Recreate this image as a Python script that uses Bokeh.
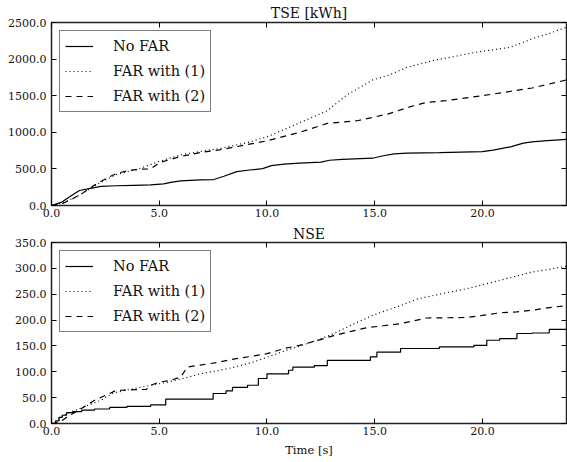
from bokeh.plotting import figure
from bokeh.layouts import column
from bokeh.models import LinearAxis, FixedTicker, PrintfTickFormatter, Range1d
from bokeh.embed import file_html
from bokeh.resources import INLINE

FONT = "'DejaVu Serif', serif"

x_ticks = [0, 5, 10, 15, 20]
tse_ticks = [0, 500, 1000, 1500, 2000, 2500]
nse_ticks = [0, 50, 100, 150, 200, 250, 300, 350]
labels = ["No FAR", "FAR with (1)", "FAR with (2)"]

# TSE [kWh]
tse_nofar_x = [0, 0.5, 1.0, 1.3, 1.8, 2.3, 3.0, 3.8, 4.6, 5.2, 5.6, 6.0, 6.9, 7.5, 8.0, 8.6, 9.2, 9.8,
               10.2, 10.8, 11.5, 12.5, 12.9, 13.5, 14.9, 15.4, 15.9, 16.5, 18.0, 20.0, 20.5, 21.3,
               21.9, 22.3, 23.0, 23.9]
tse_nofar_y = [0, 50, 150, 205, 235, 262, 270, 276, 282, 295, 320, 336, 349, 352, 400, 463, 485, 504,
               545, 565, 578, 592, 618, 630, 646, 680, 705, 715, 722, 737, 756, 801,
               852, 870, 885, 902]
tse_far1_x = [0, 0.5, 1.0, 1.36, 2.05, 2.7, 3.05, 3.6, 4.13, 5.06, 6.0, 6.9, 7.8, 9.1, 10.0, 11.2,
              12.8, 13.7, 14.9, 15.6, 16.5, 17.7, 19.7, 21.3, 22.3, 23.1, 23.9]
tse_far1_y = [0, 35, 100, 153, 276, 380, 427, 465, 510, 609, 692, 737, 778, 860, 938, 1089,
              1295, 1509, 1715, 1774, 1888, 1980, 2093, 2162, 2277, 2350, 2436]
tse_far2_x = [0, 0.5, 1.0, 1.4, 2.0, 2.7, 3.05, 3.6, 4.1, 4.6, 5.06, 6.0, 6.9, 7.8, 10.0, 11.5,
              12.8, 14.2, 15.6, 16.8, 17.4, 18.3, 20.0, 22.3, 23.1, 23.9]
tse_far2_y = [0, 25, 95, 160, 280, 395, 440, 480, 495, 500, 590, 670, 723, 760, 884, 998,
              1121, 1158, 1249, 1363, 1408, 1432, 1500, 1605, 1660, 1715]

# NSE
nse_nofar_x = [0, 0.2, 0.35, 0.5, 0.7, 1.0, 1.4, 2.0, 2.7, 3.5, 4.6, 5.3, 7.5, 8.1, 8.4, 9.1, 9.6,
               10.0, 11.0, 11.2, 12.2, 12.8, 14.8, 15.1, 16.2, 18.0, 19.6, 20.2, 20.8, 21.6,
               22.3, 23.1, 23.9]
nse_nofar_y = [0, 5, 12, 16, 21, 23, 26, 28, 31, 33, 36, 47, 58, 63, 70, 74, 87,
               96, 103, 109, 112, 122, 129, 138, 145, 148, 151, 161, 164, 174,
               175, 182, 182]
nse_far1_x = [0, 0.3, 0.7, 1.2, 1.8, 2.3, 2.8, 3.5, 4.5, 5.4, 6.2, 6.9, 7.7, 8.5, 9.3, 10.0, 10.8,
              11.6, 12.4, 13.1, 14.0, 14.9, 15.5, 16.2, 17.0, 18.0, 19.3, 20.0, 20.8, 21.6,
              22.3, 23.1, 23.9]
nse_far1_y = [0, 8, 19, 27, 37, 45, 58, 65, 73, 80, 88, 96, 102, 109, 118, 128, 140,
              151, 162, 174, 192, 209, 218, 228, 241, 250, 261, 268, 277, 285,
              293, 298, 304]
nse_far2_x = [0, 0.3, 0.5, 0.8, 1.2, 1.5, 2.0, 2.7, 3.0, 4.4, 4.6, 5.0, 5.5, 6.0, 6.3, 6.9, 7.7,
              8.5, 9.3, 10.0, 10.8, 11.5, 12.3, 13.1, 13.9, 14.6, 15.4, 16.2, 17.4, 19.3,
              20.0, 20.8, 21.6, 22.3, 23.1, 23.9]
nse_far2_y = [0, 2, 6, 15, 24, 32, 45, 58, 64, 66, 74, 80, 83, 90, 109, 113, 118,
              125, 130, 135, 145, 151, 160, 170, 178, 185, 189, 193, 204, 205,
              209, 214, 216, 219, 224, 228]

X_END = 23.9
TSE_END = 2500
NSE_END = 350


def style_axis(ax, show_labels=True):
    ax.axis_line_color = None
    ax.major_tick_in = 5
    ax.major_tick_out = 0
    ax.minor_tick_line_color = None
    ax.major_tick_line_color = "black"
    ax.major_tick_line_width = 1
    ax.major_label_text_font = FONT
    ax.major_label_text_font_size = "11px"
    ax.major_label_text_color = "#111111"
    if not show_labels:
        ax.major_label_text_font_size = "0px"
        ax.major_label_text_color = None
        ax.major_label_standoff = 0


def make_fig(height, title, yend, yticks, min_bottom, title_standoff, xlabel=None):
    p = figure(width=567, height=height, output_backend="svg", toolbar_location=None,
               x_range=Range1d(0, X_END), y_range=Range1d(0, yend),
               min_border_left=51, min_border_right=1, min_border_top=0,
               min_border_bottom=min_bottom)
    p.grid.visible = False
    p.outline_line_color = "#222222"
    p.outline_line_width = 1.5
    p.background_fill_color = "white"
    p.border_fill_color = "white"

    p.title.text = title
    p.title.text_font = FONT
    p.title.text_font_size = "14px"
    p.title.text_font_style = "normal"
    p.title.text_color = "#111111"
    p.title.align = "center"
    p.title.standoff = title_standoff

    xa = p.xaxis[0]
    xa.ticker = FixedTicker(ticks=x_ticks)
    xa.formatter = PrintfTickFormatter(format="%.1f")
    style_axis(xa)
    xa.major_label_standoff = 3
    if xlabel:
        xa.axis_label = xlabel
        xa.axis_label_text_font = FONT
        xa.axis_label_text_font_size = "11.5px"
        xa.axis_label_text_font_style = "normal"
        xa.axis_label_text_color = "#111111"
        xa.axis_label_standoff = 5

    ya = p.yaxis[0]
    ya.ticker = FixedTicker(ticks=yticks)
    ya.formatter = PrintfTickFormatter(format="%.1f")
    style_axis(ya)
    ya.major_label_standoff = 5

    ra = LinearAxis(ticker=FixedTicker(ticks=yticks))
    style_axis(ra, show_labels=False)
    p.add_layout(ra, "right")
    ta = LinearAxis(ticker=FixedTicker(ticks=x_ticks))
    style_axis(ta, show_labels=False)
    p.add_layout(ta, "above")
    return p


def add_legend(p):
    lg = p.legend[0]
    lg.location = "top_left"
    lg.margin = 8
    lg.padding = 5
    lg.spacing = 5
    lg.glyph_width = 28
    lg.label_standoff = 20
    lg.label_text_font = FONT
    lg.label_text_font_size = "14.5px"
    lg.label_text_color = "#111111"
    lg.border_line_color = "black"
    lg.border_line_width = 1
    lg.background_fill_color = "white"
    lg.background_fill_alpha = 1.0


p1 = make_fig(223, "TSE [kWh]", TSE_END, tse_ticks, 18, 4)
p1.line(tse_nofar_x, tse_nofar_y, line_color="black", line_width=1.2, legend_label=labels[0])
p1.line(tse_far1_x, tse_far1_y, line_color="black", line_width=1.2, line_dash="1 3",
        legend_label=labels[1])
p1.line(tse_far2_x, tse_far2_y, line_color="black", line_width=1.2, line_dash="6 5",
        legend_label=labels[2])
add_legend(p1)

p2 = make_fig(239, "NSE", NSE_END, nse_ticks, 39, 1, xlabel="Time [s]")
p2.step(nse_nofar_x, nse_nofar_y, mode="after", line_color="black", line_width=1.2,
        legend_label=labels[0])
p2.line(nse_far1_x, nse_far1_y, line_color="black", line_width=1.2, line_dash="1 3",
        legend_label=labels[1])
p2.line(nse_far2_x, nse_far2_y, line_color="black", line_width=1.2, line_dash="6 5",
        legend_label=labels[2])
add_legend(p2)

layout = column(p1, p2, spacing=0)
open("out.html", "w").write(file_html(layout, INLINE))
